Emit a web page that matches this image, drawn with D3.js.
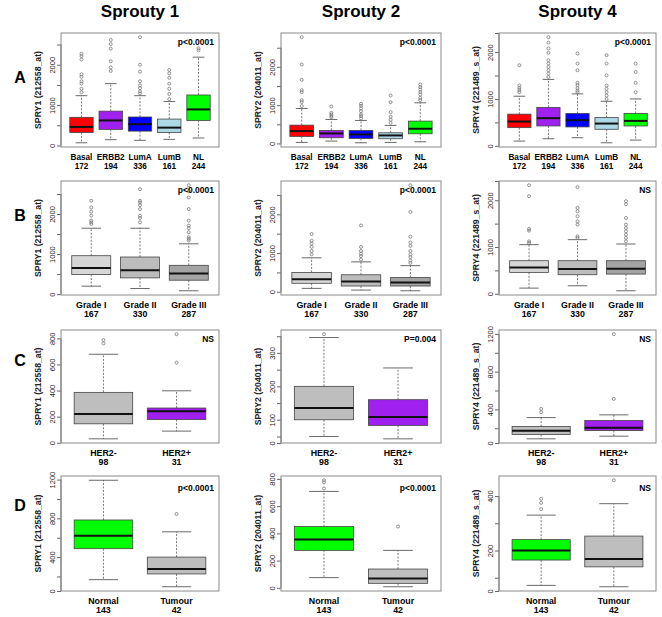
<!DOCTYPE html>
<html>
<head>
<meta charset="utf-8">
<script src="https://cdn.jsdelivr.net/npm/d3@7/dist/d3.min.js"></script>
<style>
  body { margin: 0; background: #fff; font-family: "Liberation Sans", Arial, sans-serif; }
</style>
</head>
<body>
<svg id="figure" width="662" height="617"></svg>
<script>
const columnTitles = ['Sprouty 1', 'Sprouty 2', 'Sprouty 4'];
const rowLetters = ['A', 'B', 'C', 'D'];
const probeLabels = ['SPRY1 (212558_at)', 'SPRY2 (204011_at)', 'SPRY4 (221489_s_at)'];

const subtypeNames = ['Basal', 'ERBB2', 'LumA', 'LumB', 'NL'];
const subtypeCounts = ['172', '194', '336', '161', '244'];
const gradeNames = ['Grade I', 'Grade II', 'Grade III'];
const gradeCounts = ['167', '330', '287'];
const her2Names = ['HER2-', 'HER2+'];
const her2Counts = ['98', '31'];
const tissueNames = ['Normal', 'Tumour'];
const tissueCounts = ['143', '42'];

// each box: [lower whisker, q1, median, q3, upper whisker]
const spry1Subtype = [[68, 323, 460, 698, 1234], [145, 400, 621, 851, 1532], [128, 357, 528, 706, 1234], [153, 323, 443, 655, 1089], [187, 621, 894, 1251, 2187]];
const spry1SubtypeOut = [[1319, 1404, 1532, 1591, 1702, 1762, 2128, 2213, 2272], [1847, 1932, 2085, 2400, 2511, 2613], [1290, 1340, 1421, 1490, 1591, 1830, 2000, 2681], [1149, 1277, 1404, 1532, 1677, 1787, 1872], [2357, 2408]];
const spry2Subtype = [[26, 183, 322, 478, 913], [61, 148, 261, 339, 626], [17, 130, 235, 339, 600], [26, 122, 209, 278, 470], [43, 252, 383, 583, 1061]];
const spry2SubtypeOut = [[974, 1078, 1130, 1339, 1391, 1661, 2061, 2774], [687, 722, 757, 800, 965], [652, 713, 757, 843, 913, 983, 1035], [539, 617, 696, 817, 1078, 1252], [1130, 1191, 1278, 1339, 1409, 1470, 1539]];
const spry4Subtype = [[101, 388, 518, 676, 1058], [151, 424, 590, 820, 1417], [173, 403, 547, 691, 1108], [65, 353, 475, 604, 950], [122, 424, 532, 691, 1000]];
const spry4SubtypeOut = [[1144, 1194, 1237, 1288, 1719], [1468, 1540, 1612, 1683, 1755, 1827, 1986, 2079, 2201, 2317], [1144, 1180, 1230, 1295, 1345, 1612, 1755, 1971], [1000, 1072, 1144, 1216, 1288, 1504, 1755, 1935], [1144, 1345, 1576, 1755]];

const spry1Grade = [[198, 488, 653, 959, 1645], [140, 405, 595, 926, 1645], [83, 347, 512, 719, 1256]];
const spry1GradeOut = [[1752, 1793, 1835, 1959, 2058, 2165, 2331], [1793, 1901, 1959, 2124, 2223, 2289, 2331, 2620], [1339, 1380, 1421, 1545, 1645, 1711, 1835, 2124, 2413, 2579, 2719]];
const spry2Grade = [[88, 219, 325, 500, 877], [44, 149, 263, 439, 772], [26, 149, 237, 368, 675]];
const spry2GradeOut = [[965, 1053, 1158, 1246, 1316, 1491], [833, 921, 982, 1053, 1158, 1711], [746, 807, 895, 965, 1053, 1184, 1272, 1421, 2061, 2750]];
const spry4Grade = [[121, 457, 564, 707, 1050], [171, 407, 529, 707, 1157], [64, 421, 536, 707, 1064]];
const spry4GradeOut = [[1086, 1121, 1350, 1386, 2086, 2321], [1193, 1229, 1479, 1550, 1657, 1764, 1836, 2279], [1121, 1193, 1264, 1336, 1407, 1479, 1621, 1914, 1979]];

const spry1Her2 = [[30, 145, 221, 386, 678], [89, 178, 241, 266, 398]];
const spry1Her2Out = [[761, 787], [614, 832]];
const spry2Her2 = [[50, 100, 135, 200, 346], [43, 83, 108, 160, 255]];
const spry2Her2Out = [[356], []];
const spry4Her2 = [[88, 134, 173, 218, 313], [116, 176, 204, 282, 342]];
const spry4Her2Out = [[370, 405], [511, 1197]];

const spry1Tissue = [[167, 487, 619, 783, 1193], [94, 226, 278, 400, 661]];
const spry1TissueOut = [[], [845]];
const spry2Tissue = [[75, 275, 355, 450, 708], [8, 33, 68, 138, 275]];
const spry2TissueOut = [[730, 775, 790], [450]];
const spry4Tissue = [[72, 165, 200, 240, 330], [67, 140, 169, 253, 372]];
const spry4TissueOut = [[352, 375, 390], [458]];

const pValues = [
  ['p<0.0001', 'p<0.0001', 'p<0.0001'],
  ['p<0.0001', 'p<0.0001', 'NS'],
  ['NS', 'P=0.004', 'NS'],
  ['p<0.0001', 'p<0.0001', 'NS']
];

const ticks500 = [0, 500, 1000, 1500, 2000, 2500];
const labels500 = [0, 1000, 2000];
const ticks200to800 = [0, 200, 400, 600, 800];
const ticks50 = [0, 50, 100, 150, 200, 250, 300, 350];
const labels100 = [0, 100, 200, 300];
const ticks200to1200 = [0, 200, 400, 600, 800, 1000, 1200];
const labels400 = [0, 400, 800, 1200];
const ticks100 = [0, 100, 200, 300, 400];
const labels200 = [0, 200, 400];

const subtypeColors = ['#ff0000', '#a020f0', '#0000ff', '#add8e6', '#00ff00'];
const gradeColors = ['#d6d6d6', '#bcbcbc', '#a4a4a4'];
const her2Colors = ['#bebebe', '#a020f0'];
const tissueColors = ['#00ff00', '#bebebe'];

const colLeft = [61, 281, 499];
const colRight = [219, 441, 656];
const rowTop = [33, 181, 330, 476];
const rowBottom = [147, 295, 443, 591];

const rows = [
  { names: subtypeNames, counts: subtypeCounts, colors: subtypeColors, stats: [spry1Subtype, spry2Subtype, spry4Subtype], out: [spry1SubtypeOut, spry2SubtypeOut, spry4SubtypeOut], ticks: [ticks500, ticks500, ticks500], labels: [labels500, labels500, labels500], pOffset: 12 },
  { names: gradeNames, counts: gradeCounts, colors: gradeColors, stats: [spry1Grade, spry2Grade, spry4Grade], out: [spry1GradeOut, spry2GradeOut, spry4GradeOut], ticks: [ticks500, ticks500, ticks500], labels: [labels500, labels500, labels500], pOffset: 12 },
  { names: her2Names, counts: her2Counts, colors: her2Colors, stats: [spry1Her2, spry2Her2, spry4Her2], out: [spry1Her2Out, spry2Her2Out, spry4Her2Out], ticks: [ticks200to800, ticks50, ticks200to1200], labels: [ticks200to800, labels100, labels400], pOffset: 12 },
  { names: tissueNames, counts: tissueCounts, colors: tissueColors, stats: [spry1Tissue, spry2Tissue, spry4Tissue], out: [spry1TissueOut, spry2TissueOut, spry4TissueOut], ticks: [ticks200to1200, ticks200to800, ticks100], labels: [labels400, ticks200to800, labels200], pOffset: 15 }
];

const svg = d3.select('#figure');

columnTitles.forEach((t, c) => {
  svg.append('text')
    .attr('x', (colLeft[c] + colRight[c]) / 2)
    .attr('y', 17)
    .attr('text-anchor', 'middle')
    .style('font-size', '17px')
    .style('font-weight', 'bold')
    .text(t);
});

rowLetters.forEach((t, r) => {
  svg.append('text')
    .attr('x', 20)
    .attr('y', [83, 221, 366, 511][r])
    .attr('text-anchor', 'middle')
    .style('font-size', '16px')
    .style('font-weight', 'bold')
    .text(t);
});

rows.forEach((row, r) => {
  for (let c = 0; c < 3; c++) {
    const left = colLeft[c], right = colRight[c], top = rowTop[r], bottom = rowBottom[r];
    const stats = row.stats[c];
    const outliers = row.out[c];
    const n = row.names.length;

    const x = d3.scaleLinear()
      .domain([0.5 - 0.04 * n, n + 0.5 + 0.04 * n])
      .range([left, right]);
    const values = stats.flat().concat(outliers.flat());
    const lo = d3.min(values), hi = d3.max(values), pad = (hi - lo) * 0.04;
    const y = d3.scaleLinear()
      .domain([lo - pad, hi + pad])
      .range([bottom, top])
      .clamp(true);

    const g = svg.append('g');

    // axis
    const tickVals = row.ticks[c];
    const labelVals = row.labels[c];
    const axis = d3.axisLeft(y)
      .tickValues(tickVals)
      .tickSize(4)
      .tickFormat(d => labelVals.includes(d) ? d : '');
    const ax = g.append('g')
      .attr('transform', `translate(${left},0)`)
      .call(axis);
    ax.select('.domain').remove();
    ax.selectAll('line').attr('stroke', '#666');
    ax.append('line')
      .attr('x1', 0).attr('x2', 0)
      .attr('y1', y(tickVals[0])).attr('y2', y(tickVals[tickVals.length - 1]))
      .attr('stroke', '#666');
    ax.selectAll('text')
      .attr('transform', 'rotate(-90)')
      .attr('x', 0)
      .attr('y', -6)
      .attr('dy', 0)
      .attr('text-anchor', 'middle')
      .attr('fill', '#222')
      .style('font-size', '7.5px')
      .style('font-family', '"Liberation Sans", Arial, sans-serif');

    g.append('text')
      .attr('transform', `translate(${left - 20},${(top + bottom) / 2}) rotate(-90)`)
      .attr('text-anchor', 'middle')
      .style('font-size', '8.7px')
      .style('font-weight', 'bold')
      .attr('fill', '#222')
      .text(probeLabels[c]);

    const box = g.selectAll('g.box')
      .data(stats)
      .enter()
      .append('g')
      .attr('class', 'box');

    // whiskers
    box.append('line')
      .attr('x1', (d, i) => x(i + 1)).attr('x2', (d, i) => x(i + 1))
      .attr('y1', d => y(d[3])).attr('y2', d => y(d[4]))
      .attr('stroke', '#555').attr('stroke-width', 0.8).attr('stroke-dasharray', '2,1.5');
    box.append('line')
      .attr('x1', (d, i) => x(i + 1)).attr('x2', (d, i) => x(i + 1))
      .attr('y1', d => y(d[1])).attr('y2', d => y(d[0]))
      .attr('stroke', '#555').attr('stroke-width', 0.8).attr('stroke-dasharray', '2,1.5');
    // staples
    [0, 4].forEach(k => {
      box.append('line')
        .attr('x1', (d, i) => x(i + 0.8)).attr('x2', (d, i) => x(i + 1.2))
        .attr('y1', d => y(d[k])).attr('y2', d => y(d[k]))
        .attr('stroke', '#444').attr('stroke-width', 0.8);
    });
    box.append('rect')
      .attr('x', (d, i) => x(i + 0.6))
      .attr('width', (d, i) => x(i + 1.4) - x(i + 0.6))
      .attr('y', d => y(d[3]))
      .attr('height', d => y(d[1]) - y(d[3]))
      .attr('fill', (d, i) => row.colors[i])
      .attr('stroke', '#444')
      .attr('stroke-width', 0.8);
    box.append('line')
      .attr('x1', (d, i) => x(i + 0.6)).attr('x2', (d, i) => x(i + 1.4))
      .attr('y1', d => y(d[2])).attr('y2', d => y(d[2]))
      .attr('stroke', '#111').attr('stroke-width', 2);

    // outliers
    outliers.forEach((list, i) => {
      g.selectAll(null)
        .data(list)
        .enter()
        .append('circle')
        .attr('cx', x(i + 1))
        .attr('cy', d => y(d))
        .attr('r', 1.5)
        .attr('fill', 'none')
        .attr('stroke', '#777')
        .attr('stroke-width', 0.8);
    });

    // frame
    g.append('rect')
      .attr('x', left).attr('y', top)
      .attr('width', right - left).attr('height', bottom - top)
      .attr('fill', 'none')
      .attr('stroke', '#8a8a8a')
      .attr('stroke-width', 1);

    // category labels
    const labelSize = n > 3 ? '8.2px' : '8.8px';
    row.names.forEach((name, i) => {
      g.append('text')
        .attr('x', x(i + 1)).attr('y', bottom + 13)
        .attr('text-anchor', 'middle')
        .style('font-size', labelSize).style('font-weight', 'bold')
        .text(name);
      g.append('text')
        .attr('x', x(i + 1)).attr('y', bottom + 22)
        .attr('text-anchor', 'middle')
        .style('font-size', labelSize).style('font-weight', 'bold')
        .text(row.counts[i]);
    });

    g.append('text')
      .attr('x', right - 5)
      .attr('y', top + row.pOffset)
      .attr('text-anchor', 'end')
      .style('font-size', '8.5px')
      .style('font-weight', 'bold')
      .text(pValues[r][c]);
  }
});
</script>
</body>
</html>
